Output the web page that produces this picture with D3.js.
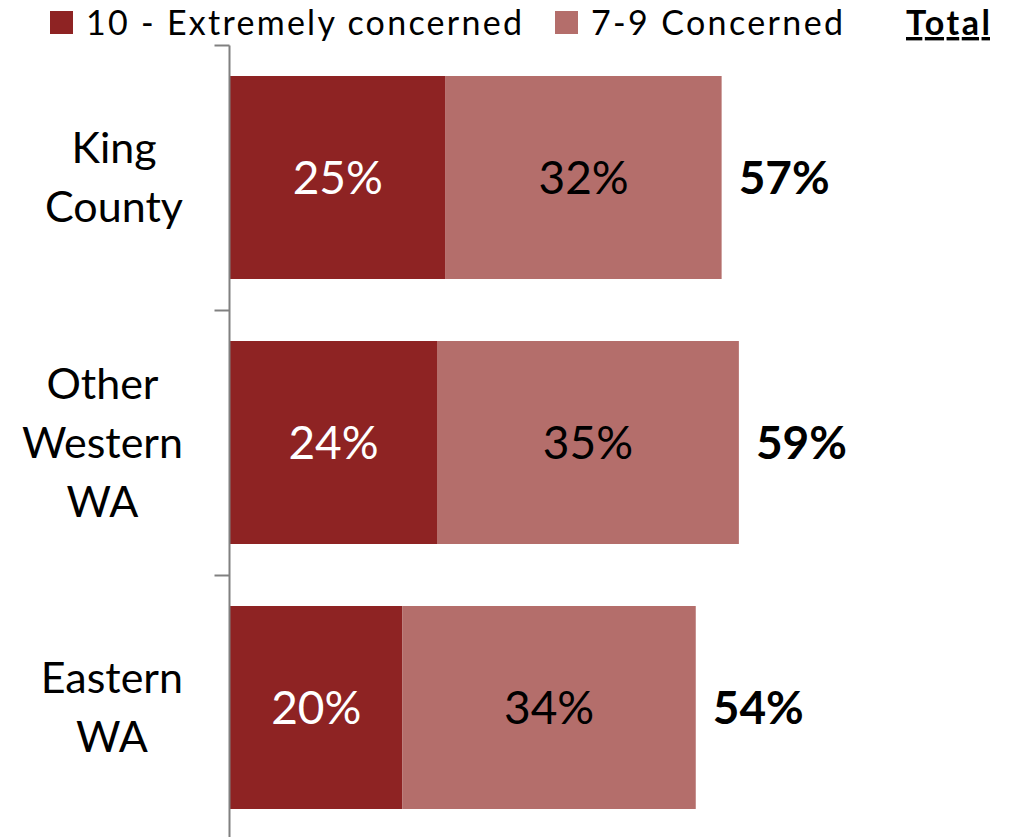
<!DOCTYPE html>
<html><head><meta charset="utf-8">
<script src="https://cdn.jsdelivr.net/npm/d3@7/dist/d3.min.js"></script>
<style>body{margin:0;background:#fff;} svg{display:block;}</style>
</head><body>
<svg id="c" width="1020" height="837"></svg>
<script>
const categories = [["King","County"],["Other","Western","WA"],["Eastern","WA"]];
const extremely = [25, 24, 20];
const concerned = [32, 35, 34];
const totals = [57, 59, 54];
const seriesNames = ["10 - Extremely concerned", "7-9 Concerned"];
const colors = ["#8e2323", "#b46e6b"];
const FONT = "Lato, 'Open Sans', sans-serif";

const svg = d3.select("#c");
const keys = categories.map(c => c.join(" "));
const x = d3.scaleLinear().domain([0, 80]).range([230, 920]);
const y = d3.scaleBand().domain(keys).range([45, 840]).paddingInner(0.234).paddingOuter(0.117);

// bars
const g = svg.append("g");
keys.forEach((k, i) => {
  g.append("rect").attr("x", x(0)).attr("y", y(k)).attr("width", x(extremely[i]) - x(0))
    .attr("height", y.bandwidth()).attr("fill", colors[0]);
  g.append("rect").attr("x", x(extremely[i])).attr("y", y(k))
    .attr("width", x(extremely[i] + concerned[i]) - x(extremely[i]))
    .attr("height", y.bandwidth()).attr("fill", colors[1]);
  const cy = y(k) + y.bandwidth() / 2;
  g.append("text").attr("x", (x(0) + x(extremely[i])) / 2).attr("y", cy + 16)
    .attr("text-anchor", "middle").attr("font-family", FONT).attr("font-size", 46)
    .attr("fill", "#fff").text(extremely[i] + "%");
  g.append("text").attr("x", (x(extremely[i]) + x(extremely[i] + concerned[i])) / 2).attr("y", cy + 16)
    .attr("text-anchor", "middle").attr("font-family", FONT).attr("font-size", 46)
    .attr("fill", "#000").text(concerned[i] + "%");
  g.append("text").attr("x", x(totals[i]) + 17).attr("y", cy + 16)
    .attr("font-family", FONT).attr("font-size", 46).attr("font-weight", "bold")
    .attr("fill", "#000").text(totals[i] + "%");
});

// axis
const axis = d3.axisLeft(y).tickSize(15).tickFormat("");
const ag = svg.append("g").attr("transform", "translate(229.5,0)").call(axis);
ag.selectAll(".tick").remove();
ag.select(".domain").attr("stroke", "#808080").attr("stroke-width", 2).attr("d", "M0,45.5V840");
const tickYs = keys.map(k => y(k) - y.step() * y.paddingInner() / 2).concat([y.range()[1]]);
ag.selectAll(".tk").data(tickYs).enter().append("line").attr("class", "tk")
  .attr("x1", -15).attr("x2", 0).attr("y1", d => Math.round(d) + 0.5).attr("y2", d => Math.round(d) + 0.5)
  .attr("stroke", "#808080").attr("stroke-width", 2);

// category labels
keys.forEach((k, i) => {
  const lines = categories[i];
  const cy = y(k) + y.bandwidth() / 2;
  const t = svg.append("text").attr("font-family", FONT).attr("font-size", 43)
    .attr("text-anchor", "middle").attr("fill", "#000");
  const ts = lines.map((l, j) => t.append("tspan").attr("y", cy + (j - (lines.length - 1) / 2) * 59 + 15).text(l));
  const w = d3.max(ts, s => s.node().getComputedTextLength());
  ts.forEach(s => s.attr("x", 183 - w / 2));
});

// legend
const lg = svg.append("g");
const legX = [50, 555];
const legLen = [436, 252];
seriesNames.forEach((n, i) => {
  lg.append("rect").attr("x", legX[i]).attr("y", 11).attr("width", 23).attr("height", 23).attr("fill", colors[i]);
  lg.append("text").attr("x", legX[i] + 36).attr("y", 35).attr("font-family", FONT).attr("font-size", 34)
    .attr("textLength", legLen[i]).attr("lengthAdjust", "spacing")
    .attr("fill", "#000").text(n);
});
lg.append("text").attr("x", 906).attr("y", 35).attr("font-family", FONT).attr("font-size", 34)
  .attr("textLength", 84).attr("lengthAdjust", "spacing")
  .attr("font-weight", "bold").attr("text-decoration", "underline").attr("fill", "#000").text("Total");
</script>
</body></html>
